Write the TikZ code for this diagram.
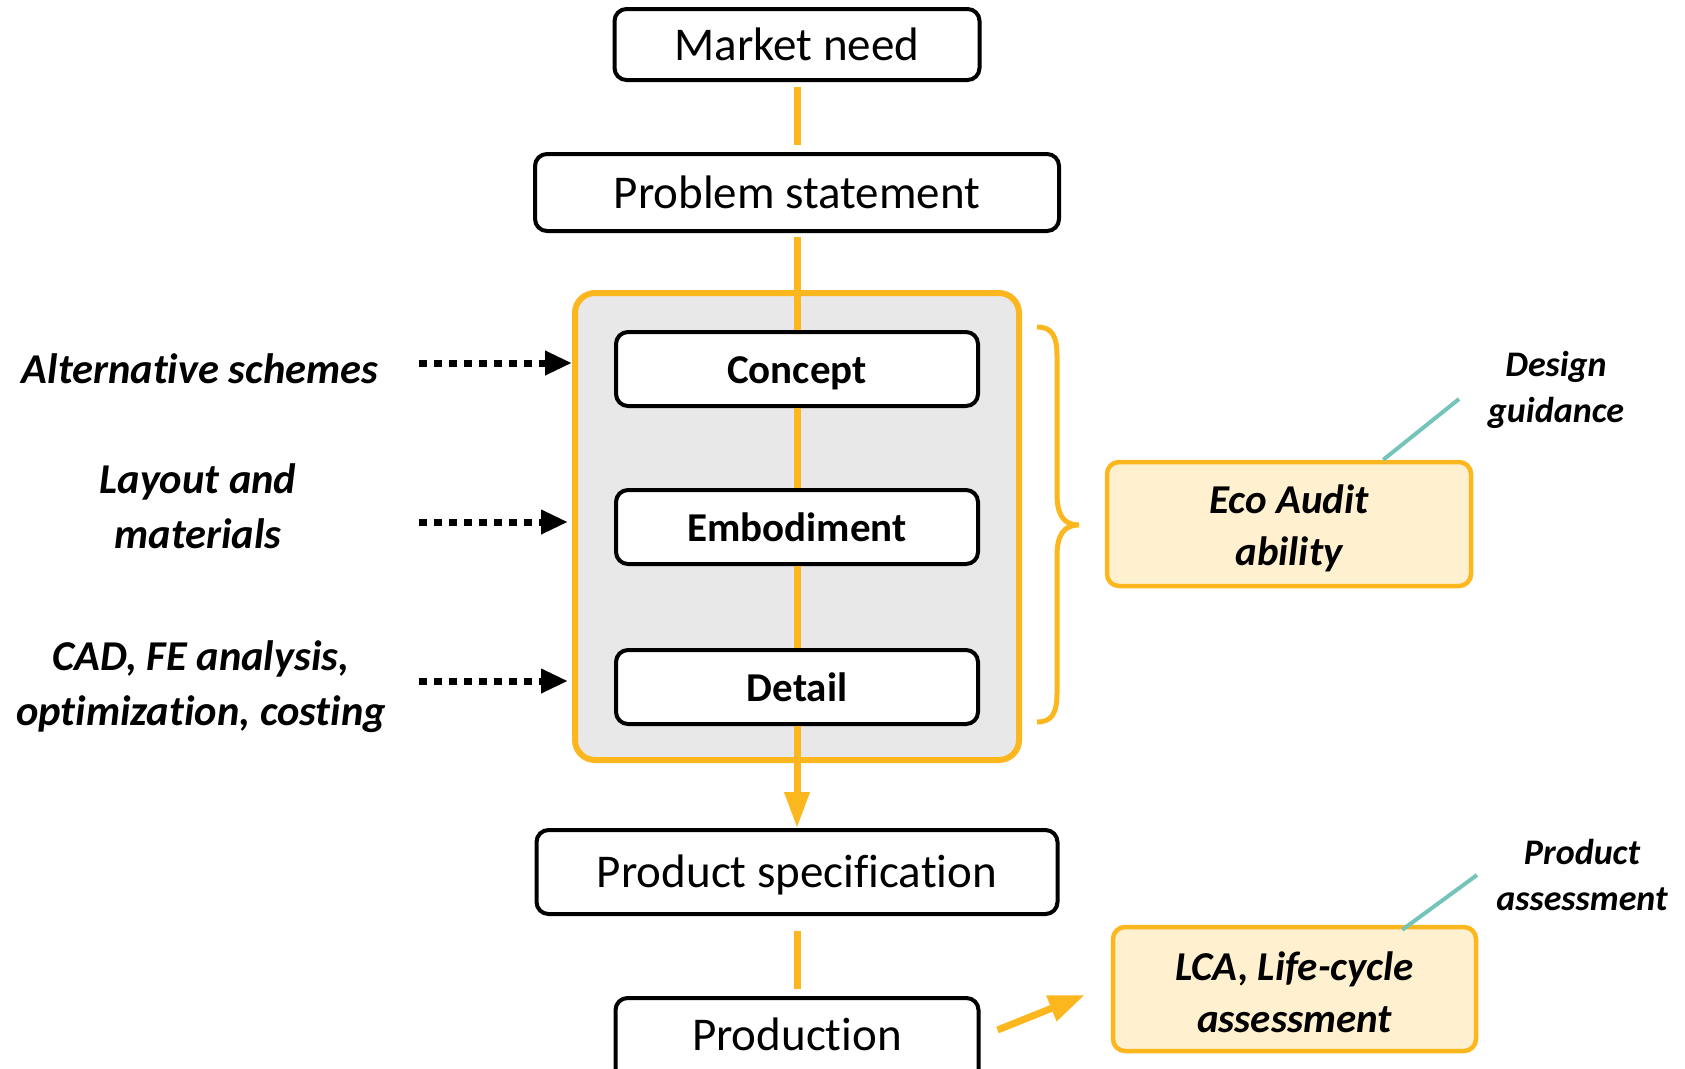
\documentclass[tikz,border=0pt]{standalone}
\usepackage{fontspec}
\setmainfont{Carlito}[Ligatures=NoCommon]
\usetikzlibrary{arrows.meta}

\definecolor{gold}{RGB}{253,183,30}
\definecolor{panel}{RGB}{231,232,231}
\definecolor{cream}{RGB}{255,240,208}
\definecolor{leadteal}{RGB}{117,196,185}

\tikzset{
  flowbox/.style={draw=black, line width=4pt, fill=white, rounded corners=12pt,
    inner sep=0pt, font=\fontsize{47}{56}\selectfont, text height=31pt, text depth=0pt},
  phasebox/.style={flowbox, font=\bfseries\fontsize{41}{50}\selectfont,
    text height=28pt, minimum width=362pt, minimum height=74pt},
  toolbox/.style={draw=gold, line width=4.5pt, fill=cream, rounded corners=12pt,
    inner sep=0pt, align=center, font=\bfseries\itshape\fontsize{41}{52}\selectfont},
  sidenote/.style={align=center, inner sep=0pt, font=\bfseries\itshape\fontsize{42.5}{55}\selectfont},
  smallnote/.style={align=center, inner sep=0pt, font=\bfseries\itshape\fontsize{36}{46}\selectfont},
  flow/.style={draw=gold, line width=7pt},
  feed/.style={draw=black, line width=7pt, dash pattern=on 8pt off 7pt,
    -{Triangle[length=27pt,width=23pt]}},
  pointer/.style={draw=leadteal, line width=4pt},
}

\begin{document}
\begin{tikzpicture}[x=1pt, y=-1pt]
\useasboundingbox (0,0) rectangle (1685,1068);

% design stages panel
\node[draw=gold, line width=6pt, fill=panel, rounded corners=20pt, inner sep=0pt,
  minimum width=444pt, minimum height=467pt] (stage) at (797,526.5) {};

% main sequence boxes
\node[flowbox, minimum width=365pt, minimum height=71pt] (market) at (797,44.5) {Market need};
\node[flowbox, minimum width=524pt, minimum height=77pt] (problem) at (797,192.5) {Problem statement};
\node[flowbox, minimum width=521pt, minimum height=84pt] (spec) at (797,872) {Product specification};
\node[flowbox, minimum width=363pt, minimum height=84pt, text depth=10pt] (prod) at (797,1040) {Production};

% stage boxes
\node[phasebox] (concept) at (797,369) {Concept};
\node[phasebox] (embod) at (797,527) {Embodiment};
\node[phasebox] (detail) at (797,687) {Detail};

% connectors of the main flow
\draw[flow, shorten <=5pt, shorten >=7pt] (market.south) -- (problem.north);
\draw[flow, shorten <=4pt] (problem.south) -- (concept.north);
\draw[flow] (concept.south) -- (embod.north);
\draw[flow] (embod.south) -- (detail.north);
\draw[flow, -{Triangle[length=36pt,width=24pt]}] (detail.south) -- (spec.north);
\draw[flow, shorten <=15pt, shorten >=7pt] (spec.south) -- (prod.north);

% inputs to the design stages
\node[sidenote, anchor=base] (alt) at (200,383) {Alternative schemes};
\node[sidenote] (layout) at (198,506) {Layout and\\materials};
\node[sidenote] (cad) at (201,686.5) {CAD, FE analysis,\\optimization, costing};

\coordinate (f1) at (419,363);
\coordinate (f2) at (419,522);
\coordinate (f3) at (419,681);
\draw[feed] (f1) -- (f1 -| stage.west);
\draw[feed] (f2) -- ([xshift=-4pt]f2 -| stage.west);
\draw[feed] (f3) -- ([xshift=-4pt]f3 -| stage.west);

% brace grouping the design stages
\draw[gold, line width=5pt]
  (1037,327) .. controls (1052,327) and (1057,336) .. (1057,356)
  -- (1057,494) .. controls (1057,514) and (1063,525) .. (1079,525)
  .. controls (1063,525) and (1057,536) .. (1057,556)
  -- (1057,693) .. controls (1057,713) and (1052,722) .. (1037,722);

% eco audit tool
\node[toolbox, minimum width=364pt, minimum height=124pt] (eco) at (1289,524)
  {\rule{0pt}{38pt}Eco Audit\\ability};
\node[smallnote] (design) at (1556,390) {Design\\guidance};
\coordinate (dg) at (1459,399);
\draw[pointer] ([xshift=-90pt]eco.north east) -- (dg);

% life-cycle assessment
\node[toolbox, minimum width=363pt, minimum height=124pt] (lca) at (1294.5,989)
  {\rule{0pt}{35pt}LCA, Life-cycle\\assessment};
\node[smallnote] (passess) at (1582,874.5) {Product\\assessment};
\coordinate (pa) at (1477,875);
\draw[pointer] ([shift={(-76,5)}]lca.north east) -- (pa);

\draw[flow, -{Triangle[length=36pt,width=26pt]}] ([shift={(17,-10)}]prod.east) -- ([shift={(-26,6)}]lca.west);
\end{tikzpicture}
\end{document}
